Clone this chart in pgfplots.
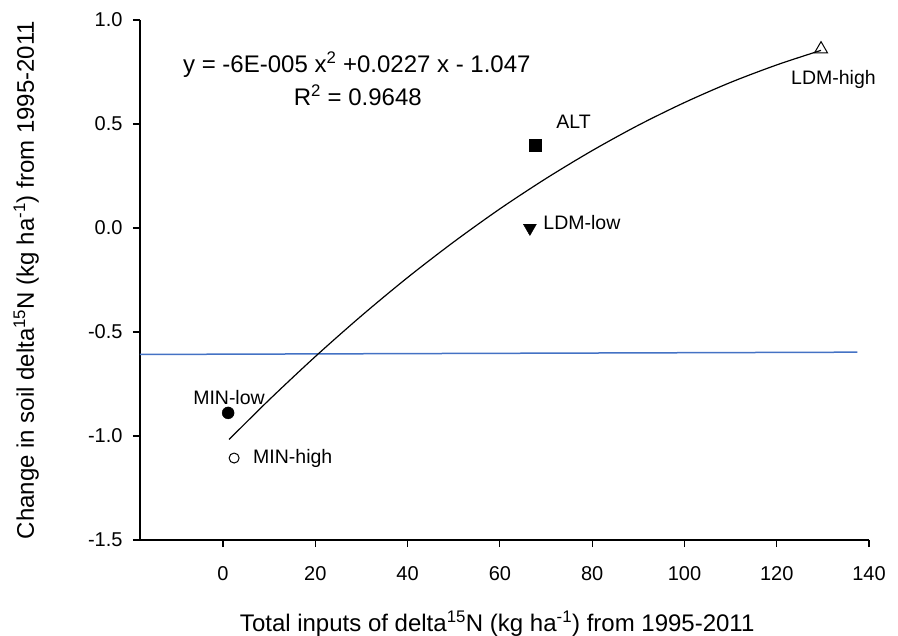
\documentclass[border=0pt]{standalone}
\usepackage{fontspec}
\setmainfont{Liberation Sans}
\usepackage{pgfplots}
\pgfplotsset{compat=1.18}
\definecolor{blueline}{RGB}{68,114,196}
\begin{document}
\begin{tikzpicture}
\path[use as bounding box] (-140bp,-96bp) rectangle (758bp,540bp);
\begin{axis}[
  at={(0,0)}, anchor=south west,
  width=729bp, height=520bp, scale only axis,
  xmin=-18, xmax=140, ymin=-1.5, ymax=1.0,
  clip=false,
  axis lines=left,
  axis line style={-, black, line width=1.2bp},
  tick align=outside, major tick length=7bp,
  tick style={black, line width=1.2bp},
  xtick={0,20,...,140}, ytick={-1.5,-1,-0.5,0,0.5,1},
  xtick pos=bottom, ytick pos=left,
  ticklabel style={font=\fontsize{20bp}{24bp}\selectfont},
  x tick label style={yshift=-16.5bp, /pgf/number format/assume math mode=true},
  y tick label style={xshift=-7bp, /pgf/number format/.cd, fixed, fixed zerofill, precision=1, assume math mode=true},
  xlabel={Total inputs of delta\textsuperscript{15}N (kg ha\textsuperscript{-1}) from 1995-2011},
  ylabel={Change in soil delta\textsuperscript{15}N (kg ha\textsuperscript{-1}) from 1995-2011},
  label style={font=\fontsize{24bp}{28bp}\selectfont},
  x label style={at={(axis description cs:0.49,-0.175)}, anchor=base},
  y label style={at={(axis description cs:-0.1454,0.5)}, anchor=base, rotate=0},
]
\addplot[blueline, line width=1.5bp] coordinates {(-18,-0.608) (137.5,-0.597)};
\addplot[black, line width=1.2bp, smooth] coordinates {
(1.3,-1.017) (10,-0.826) (20,-0.618) (30,-0.422) (40,-0.238) (50,-0.067)
(60,0.092) (70,0.238) (80,0.372) (90,0.494) (100,0.603) (110,0.700)
(120,0.784) (129.6,0.854)};
\addplot[only marks, mark=*, mark size=6bp, black] coordinates {(1.1,-0.889)};
\addplot[only marks, mark=o, mark size=5bp, black, mark options={line width=1bp, fill=white}] coordinates {(2.4,-1.106)};
\addplot[only marks, mark=square*, mark size=6bp, black] coordinates {(67.6,0.399)};
\addplot[only marks, mark=triangle*, mark size=7.5bp, black, mark options={rotate=180}] coordinates {(66.5,0.0)};
\addplot[only marks, mark=triangle, mark size=7.5bp, black, mark options={fill=white, line width=1bp}] coordinates {(129.6,0.86)};
\node[anchor=west, inner sep=0, font=\fontsize{19.5bp}{22bp}\selectfont] at (axis cs:-6.5,-0.817) {MIN-low};
\node[anchor=west, inner sep=0, font=\fontsize{19.5bp}{22bp}\selectfont] at (axis cs:6.5,-1.106) {MIN-high};
\node[anchor=west, inner sep=0, font=\fontsize{19.5bp}{22bp}\selectfont] at (axis cs:72.2,0.510) {ALT};
\node[anchor=west, inner sep=0, font=\fontsize{19.5bp}{22bp}\selectfont] at (axis cs:69.4,0.024) {LDM-low};
\node[anchor=west, inner sep=0, font=\fontsize{19.5bp}{22bp}\selectfont] at (axis cs:123.1,0.712) {LDM-high};
\node[inner sep=0, font=\fontsize{24bp}{28bp}\selectfont] at (axis cs:29.0,0.784) {y = -6E-005 x\textsuperscript{2} +0.0227 x - 1.047};
\node[inner sep=0, font=\fontsize{24bp}{28bp}\selectfont] at (axis cs:29.2,0.637) {R\textsuperscript{2} = 0.9648};
\end{axis}
\end{tikzpicture}
\end{document}
